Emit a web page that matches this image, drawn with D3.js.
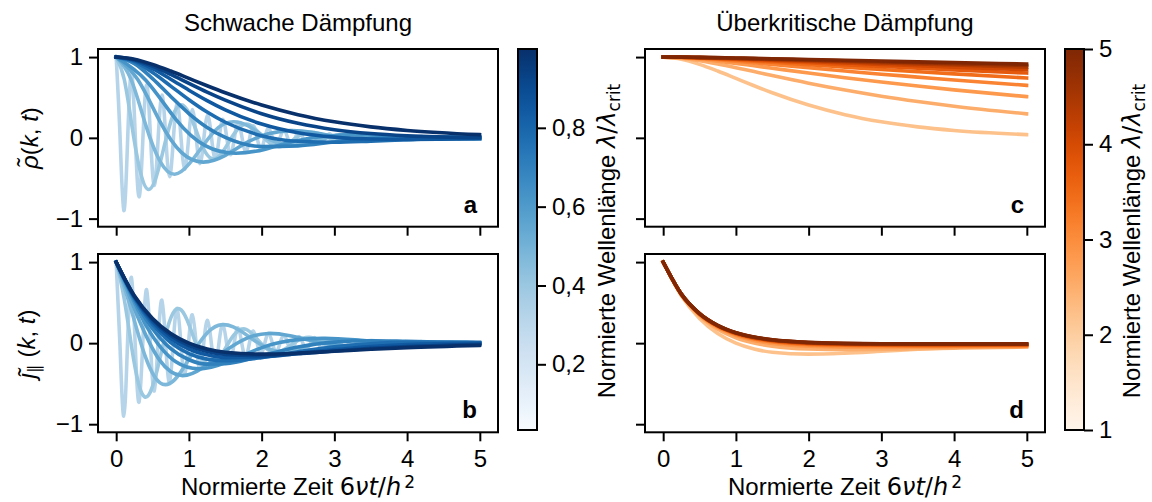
<!DOCTYPE html>
<html>
<head>
<meta charset="utf-8">
<script src="https://cdn.jsdelivr.net/npm/d3@7"></script>
<style>
  body { margin: 0; background: #fff; }
  svg text { font-family: "Liberation Sans", Arial, sans-serif; }
</style>
</head>
<body>
<div id="chart"></div>
<script>
// wavelength ratios lambda/lambda_crit of the plotted curves
var lambdaWeak = [0.0333, 0.1407, 0.2481, 0.3556, 0.4630, 0.5704, 0.6778, 0.7852, 0.8926, 1.0];
var lambdaOver = [1, 1.444, 1.889, 2.333, 2.778, 3.222, 3.667, 4.111, 4.556, 5];

// the five fastest oscillating curves are sampled on an even time grid starting at t = 0
var fastStep = [0.05239, 0.11165, 0.20119, 0.29878, 0.41021];

var rhoFast = [
  [1, .03, -.90, -.03, .81, .03, -.73, -.02,
   .66, .02, -.59, -.02, .53, .02, -.48, -.02,
   .43, .01, -.39, -.01, .35, .01, -.32, -.01,
   .28, .01, -.26, -.01, .23, .01, -.21, -.01,
   .19, .01, -.17, -.01, .15, 0, -.14, 0,
   .12, 0, -.11, 0, .10, 0, -.09, 0,
   .08, 0, -.07, 0, .07, 0, -.06, 0,
   .05, 0, -.05, 0, .04, 0, -.04, 0,
   .03, 0, -.03, 0, .03, 0, -.03, 0,
   .02, 0, -.02, 0, .02, 0, -.02, 0,
   .02, 0, -.01, 0, .01, 0, -.01, 0,
   .01, 0, -.01, 0, .01, 0, -.01, 0],
  [1, .72, .11, -.43, -.64, -.46, -.07, .28,
   .41, .30, .05, -.18, -.26, -.19, -.03, .11,
   .17, .12, .02, -.07, -.11, -.08, -.01, .05,
   .07, .05, .01, -.03, -.04, -.03, 0, .02,
   .03, .02, 0, -.01, -.02, -.01, 0, .01,
   .01, .01, 0, 0, -.01, -.01],
  [1, .73, .17, -.29, -.45, -.32, -.08, .13,
   .20, .15, .03, -.06, -.09, -.06, -.02, .03,
   .04, .03, .01, -.01, -.02, -.01, 0, .01,
   .01, .01],
  [1, .72, .21, -.18, -.30, -.22, -.06, .05,
   .09, .07, .02, -.02, -.03, -.02, -.01, 0,
   .01, .01],
  [1, .71, .23, -.10, -.19, -.14, -.04, .02, .04, .03, .01, 0, -.01, -.01]
];

var jFast = [
  [1, -.03, -.90, .03, .81, -.03, -.73, .02,
   .66, -.02, -.59, .02, .53, -.02, -.48, .02,
   .43, -.01, -.39, .01, .35, -.01, -.32, .01,
   .28, -.01, -.26, .01, .23, -.01, -.21, .01,
   .19, -.01, -.17, .01, .15, 0, -.14, 0,
   .12, 0, -.11, 0, .10, 0, -.09, 0,
   .08, 0, -.07, 0, .07, 0, -.06, 0,
   .05, 0, -.05, 0, .04, 0, -.04, 0,
   .03, 0, -.03, 0, .03, 0, -.03, 0,
   .02, 0, -.02, 0, .02, 0, -.02, 0,
   .02, 0, -.01, 0, .01, 0, -.01, 0,
   .01, 0, -.01, 0, .01, 0, -.01, 0],
  [1, .54, -.11, -.58, -.64, -.35, .07, .37,
   .41, .22, -.05, -.24, -.26, -.14, .03, .15,
   .17, .09, -.02, -.10, -.11, -.06, .01, .06,
   .07, .04, -.01, -.04, -.04, -.02, 0, .03,
   .03, .02, 0, -.02, -.02, -.01, 0, .01,
   .01, .01, 0, -.01, -.01, 0],
  [1, .43, -.17, -.49, -.45, -.19, .08, .22,
   .20, .09, -.03, -.10, -.09, -.04, .02, .04,
   .04, .02, -.01, -.02, -.02, -.01, 0, .01,
   .01, 0],
  [1, .32, -.21, -.40, -.30, -.10, .06, .12,
   .09, .03, -.02, -.04, -.03, -.01, .01, .01,
   .01, 0],
  [1, .22, -.23, -.31, -.19, -.04, .04, .06, .04, .01, -.01, -.01, -.01, 0]
];

// slower curves share one set of sample times
var tSlow = [0, 0.25, 0.5, 0.75, 1, 1.25, 1.5, 2, 2.5, 3, 3.5, 4, 5];

var rhoWeakSlow = [
  [1, .919, .734, .512, .301, .129, .005, -.107, -.099, -.051, -.010, .010, .008],
  [1, .943, .808, .641, .472, .319, .193, .027, -.043, -.055, -.041, -.022, .000],
  [1, .957, .856, .726, .590, .461, .346, .171, .064, .009, -.014, -.019, -.011],
  [1, .967, .887, .785, .674, .566, .466, .299, .180, .101, .053, .025, .002],
  [1, .974, .910, .827, .736, .645, .558, .406, .287, .199, .136, .092, .040]
];
var jWeakSlow = [
  [1, .538, .178, -.067, -.205, -.259, -.253, -.155, -.048, .013, .030, .022, .000],
  [1, .558, .231, .008, -.128, -.197, -.218, -.179, -.106, -.044, -.007, .009, .009],
  [1, .570, .264, .058, -.072, -.144, -.178, -.172, -.128, -.080, -.042, -.018, .001],
  [1, .578, .287, .093, -.031, -.104, -.141, -.155, -.130, -.096, -.065, -.041, -.013],
  [1, .584, .303, .118, .000, -.072, -.112, -.135, -.123, -.100, -.076, -.055, -.027]
];

var rhoOver = [
  [1, .974, .910, .827, .736, .645, .558, .406, .287, .199, .136, .092, .040],
  [1, .987, .956, .915, .869, .820, .771, .677, .592, .516, .450, .392, .297],
  [1, .993, .974, .950, .922, .892, .862, .802, .745, .691, .641, .594, .510],
  [1, .995, .983, .967, .949, .929, .908, .867, .827, .788, .752, .716, .650],
  [1, .997, .988, .977, .964, .949, .935, .905, .876, .847, .819, .792, .741],
  [1, .997, .991, .983, .973, .962, .951, .929, .907, .885, .863, .842, .802],
  [1, .998, .993, .987, .979, .971, .962, .945, .927, .910, .893, .876, .844],
  [1, .998, .995, .989, .983, .977, .970, .956, .942, .928, .914, .901, .874],
  [1, .999, .996, .991, .986, .981, .975, .964, .953, .941, .930, .918, .896],
  [1, .999, .996, .993, .989, .984, .980, .970, .961, .951, .941, .932, .913]
];
var jOver = [
  [1, .584, .303, .118, .000, -.072, -.112, -.135, -.123, -.100, -.076, -.055, -.027],
  [1, .596, .337, .171, .067, .002, -.037, -.072, -.080, -.077, -.070, -.062, -.048],
  [1, .600, .349, .193, .095, .034, -.003, -.039, -.050, -.052, -.051, -.048, -.042],
  [1, .602, .356, .203, .109, .050, .014, -.021, -.033, -.036, -.037, -.036, -.033],
  [1, .604, .359, .209, .116, .059, .025, -.010, -.022, -.026, -.027, -.027, -.026],
  [1, .604, .362, .213, .121, .065, .031, -.003, -.015, -.019, -.021, -.021, -.020],
  [1, .605, .363, .215, .124, .069, .035, .002, -.010, -.015, -.016, -.017, -.016],
  [1, .605, .364, .217, .127, .072, .038, .005, -.007, -.011, -.013, -.013, -.013],
  [1, .605, .365, .218, .128, .074, .040, .008, -.005, -.009, -.010, -.011, -.011],
  [1, .606, .365, .219, .129, .075, .042, .009, -.003, -.007, -.009, -.009, -.009]
];

var timeTicks = [0, 1, 2, 3, 4, 5];
var valueTicks = [-1, 0, 1];
var weakBarTicks = [0.2, 0.4, 0.6, 0.8];
var overBarTicks = [1, 2, 3, 4, 5];

var fontMain = '"Liberation Sans", Arial, sans-serif',
    fontMath = '"DejaVu Sans", sans-serif',
    fs = 24, fsSmall = 17;

var svg = d3.select("#chart")
    .append("svg")
    .attr("width", 1152)
    .attr("height", 502)
    .style("background", "#fff");

var defs = svg.append("defs");

function weakSeries(fast, slow){
    return lambdaWeak.map(function(lam, i){
        if(i < fast.length){
            return {lam: lam, i: i, curve: d3.curveNatural,
                pts: fast[i].map(function(v, m){ return [m * fastStep[i], v]; })};
        }
        return {lam: lam, i: i, curve: d3.curveMonotoneX,
            pts: slow[i - fast.length].map(function(v, m){ return [tSlow[m], v]; })};
    });
}

function overSeries(vals){
    return lambdaOver.map(function(lam, i){
        return {lam: lam, i: i, curve: d3.curveMonotoneX,
            pts: vals[i].map(function(v, m){ return [tSlow[m], v]; })};
    });
}

var panels = [
    {name: "a", x0: 98, y0: 49, y1: 226.7, series: weakSeries(rhoFast, rhoWeakSlow), cmap: d3.interpolateBlues, xLabels: false, yLabels: true},
    {name: "b", x0: 98, y0: 254, y1: 432.3, series: weakSeries(jFast, jWeakSlow), cmap: d3.interpolateBlues, xLabels: true, yLabels: true},
    {name: "c", x0: 645, y0: 49, y1: 226.7, series: overSeries(rhoOver), cmap: d3.interpolateOranges, xLabels: false, yLabels: false},
    {name: "d", x0: 645, y0: 254, y1: 432.3, series: overSeries(jOver), cmap: d3.interpolateOranges, xLabels: true, yLabels: false}
];

panels.forEach(function(p){
    var x = d3.scaleLinear().domain([-0.25, 5.25]).range([p.x0, p.x0 + 400]);
    var y = d3.scaleLinear().domain([-1.1, 1.1]).range([p.y1, p.y0]);

    // curves stop at t = 5
    defs.append("clipPath").attr("id", "clip-" + p.name)
        .append("rect")
        .attr("x", p.x0)
        .attr("y", p.y0)
        .attr("width", x(5) - p.x0 + 1.8)
        .attr("height", p.y1 - p.y0);

    var n = p.series.length;
    svg.append("g")
        .attr("clip-path", "url(#clip-" + p.name + ")")
        .selectAll("path")
        .data(p.series).enter().append("path")
        .attr("fill", "none")
        .attr("stroke", function(d){ return p.cmap(0.3 + 0.7 * d.i / (n - 1)); })
        .attr("stroke-width", 3.6)
        .attr("stroke-linecap", "square")
        .attr("stroke-linejoin", "round")
        .attr("d", function(d){
            return d3.line()
                .x(function(q){ return x(q[0]); })
                .y(function(q){ return y(q[1]); })
                .curve(d.curve)(d.pts);
        });

    var gx = svg.append("g")
        .attr("transform", "translate(0," + p.y1 + ")")
        .call(d3.axisBottom(x).tickValues(timeTicks).tickSize(9).tickPadding(9)
            .tickFormat(p.xLabels ? d3.format("d") : function(){ return ""; }));
    var gy = svg.append("g")
        .attr("transform", "translate(" + p.x0 + ",0)")
        .call(d3.axisLeft(y).tickValues(valueTicks).tickSize(9).tickPadding(6)
            .tickFormat(p.yLabels ? d3.format("d") : function(){ return ""; }));
    [gx, gy].forEach(function(g){
        g.select(".domain").remove();
        g.attr("font-size", fs).attr("font-family", fontMain);
        g.selectAll("line").attr("stroke", "#000").attr("stroke-width", 2);
        g.selectAll("text").attr("fill", "#000");
    });

    svg.append("rect")
        .attr("x", p.x0).attr("y", p.y0)
        .attr("width", 400).attr("height", p.y1 - p.y0)
        .attr("fill", "none")
        .attr("stroke", "#000")
        .attr("stroke-width", 2);

    svg.append("text")
        .attr("x", p.x0 + 379)
        .attr("y", p.y1 - 14)
        .attr("text-anchor", "end")
        .attr("font-size", fs)
        .attr("font-weight", "bold")
        .text(p.name);
});

function colorbar(x0, interp, domain, ticks, fmt, id){
    var top = 49, bottom = 430, w = 19;
    var grad = defs.append("linearGradient").attr("id", id)
        .attr("x1", 0).attr("y1", 1).attr("x2", 0).attr("y2", 0);
    d3.range(0, 21).forEach(function(k){
        grad.append("stop").attr("offset", k / 20).attr("stop-color", interp(k / 20));
    });
    svg.append("rect")
        .attr("x", x0).attr("y", top)
        .attr("width", w).attr("height", bottom - top)
        .attr("fill", "url(#" + id + ")")
        .attr("stroke", "#000")
        .attr("stroke-width", 2);
    var cy = d3.scaleLinear().domain(domain).range([bottom, top]);
    var g = svg.append("g")
        .attr("transform", "translate(" + (x0 + w) + ",0)")
        .call(d3.axisRight(cy).tickValues(ticks).tickSize(9).tickPadding(6).tickFormat(fmt));
    g.select(".domain").remove();
    g.attr("font-size", fs).attr("font-family", fontMain);
    g.selectAll("line").attr("stroke", "#000").attr("stroke-width", 2);
    g.selectAll("text").attr("fill", "#000");
}

colorbar(518, d3.interpolateBlues, [d3.min(lambdaWeak), d3.max(lambdaWeak)], weakBarTicks,
    function(d){ return d3.format(".1f")(d).replace(".", ","); }, "grad-weak");
colorbar(1065, d3.interpolateOranges, [d3.min(lambdaOver), d3.max(lambdaOver)], overBarTicks,
    d3.format("d"), "grad-over");

// titles
[["Schwache Dämpfung", 298], ["Überkritische Dämpfung", 845]].forEach(function(t){
    svg.append("text")
        .attr("x", t[1]).attr("y", 31)
        .attr("text-anchor", "middle")
        .attr("font-size", fs)
        .text(t[0]);
});

// x labels
[298, 845].forEach(function(cx){
    var t = svg.append("text")
        .attr("x", cx).attr("y", 495)
        .attr("text-anchor", "middle")
        .attr("font-size", fs);
    t.append("tspan").text("Normierte Zeit ");
    t.append("tspan").attr("font-family", fontMath).text("6");
    t.append("tspan").attr("font-family", fontMath).attr("font-style", "italic").text("νt");
    t.append("tspan").attr("font-family", fontMath).text("/");
    t.append("tspan").attr("font-family", fontMath).attr("font-style", "italic").text("h");
    t.append("tspan").attr("font-family", fontMath).attr("font-size", fsSmall).attr("dx", 3).attr("dy", -7).text("2");
});

// y labels
var yl1 = svg.append("text")
    .attr("transform", "translate(38,138) rotate(-90)")
    .attr("text-anchor", "middle")
    .attr("font-size", fs)
    .attr("font-family", fontMath);
yl1.append("tspan").attr("font-style", "italic").text("ρ\u0303");
yl1.append("tspan").text("(");
yl1.append("tspan").attr("font-style", "italic").text("k");
yl1.append("tspan").text(", ");
yl1.append("tspan").attr("font-style", "italic").text("t");
yl1.append("tspan").text(")");

var yl2 = svg.append("text")
    .attr("transform", "translate(35,344) rotate(-90)")
    .attr("text-anchor", "middle")
    .attr("font-size", fs)
    .attr("font-family", fontMath);
yl2.append("tspan").attr("font-style", "italic").text("\u0237\u0303");
yl2.append("tspan").attr("font-size", fsSmall).attr("dy", 5).text("\u2225");
yl2.append("tspan").attr("dy", -5).text(" (");
yl2.append("tspan").attr("font-style", "italic").text("k");
yl2.append("tspan").text(", ");
yl2.append("tspan").attr("font-style", "italic").text("t");
yl2.append("tspan").text(")");

// colorbar labels
[615, 1140].forEach(function(bx){
    var t = svg.append("text")
        .attr("transform", "translate(" + bx + ",241) rotate(-90)")
        .attr("text-anchor", "middle")
        .attr("font-size", fs);
    t.append("tspan").text("Normierte Wellenlänge ");
    t.append("tspan").attr("font-family", fontMath).attr("font-style", "italic").text("λ");
    t.append("tspan").attr("font-family", fontMath).text("/");
    t.append("tspan").attr("font-family", fontMath).attr("font-style", "italic").text("λ");
    t.append("tspan").attr("font-family", fontMath).attr("font-size", fsSmall).attr("dy", 5).text("crit");
});
</script>
</body>
</html>
